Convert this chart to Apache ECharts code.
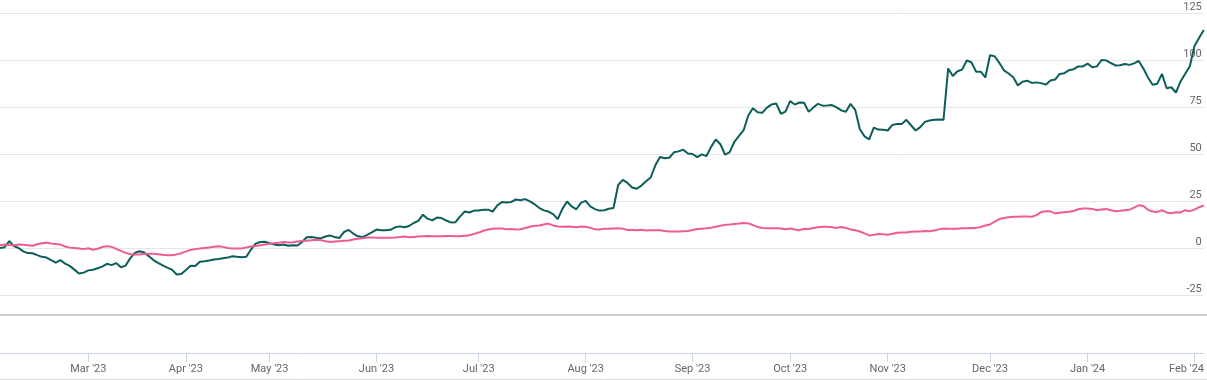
<!DOCTYPE html>
<html>
<head>
<meta charset="utf-8">
<script src="https://cdn.jsdelivr.net/npm/echarts@6/dist/echarts.min.js"></script>
<style>html,body{margin:0;padding:0;background:#fff}#c{width:1207px;height:380px}</style>
</head>
<body>
<div id="c"></div>
<script>
// Month tick labels and number of trading days (points) per month
const monthLabels = ["Feb '23","Mar '23","Apr '23","May '23","Jun '23","Jul '23","Aug '23","Sep '23","Oct '23","Nov '23","Dec '23","Jan '24","Feb '24"];
const monthDays = [19,21,18,23,22,23,23,21,21,22,21,23,3];

// y axis ticks
const yMin = -25, yMax = 125, yStep = 25;

// Series values (% change), one per trading day
const seriesGreen = [
0,0.4,3.6,1,0,-1.8,-2.7,-2.8,-3.8,-4.7,
-5.1,-6.5,-7.8,-6.4,-8.3,-9.5,-11.5,-13.6,-13.1,-11.9,
-11.6,-10.8,-9.9,-8.4,-9.1,-8,-10.2,-9.4,-5.5,-2.6,
-1.7,-2.4,-4.3,-6.4,-7.9,-9.2,-10.4,-11.5,-14.1,-13.8,
-11.7,-9.5,-9.6,-7.3,-7.1,-6.7,-6.1,-5.8,-5.4,-5.1,
-4.4,-4.7,-4.9,-4.7,-0.8,2.3,3.2,3.3,2.6,1.9,
1.5,1.9,1.2,1.5,1.3,3.2,5.7,5.9,5.4,5.1,
6.1,6.7,5.8,5.3,8.5,9.6,7.7,6.2,5.8,7,
8.3,9.8,9.4,9.4,9.7,11,11.5,11,11.7,13.3,
14.4,17.7,15.6,14.7,16.2,15.9,14.6,13.6,13.7,16.8,
19.4,18.9,19.9,20,20.3,20.4,19.4,22.7,24.5,24.2,
24.5,25.8,25.4,26,24.8,23.3,21.4,20,19.4,18,
15.4,20.8,24.7,22.1,20.6,24,25.1,22.1,20.7,19.9,
20.1,20.9,21.3,33.5,36.2,34.6,32.2,31.5,33.2,35.5,
37.5,44,48.4,47.7,48,50.9,51.4,52.3,50.3,50,
48.3,49.8,48.9,53.8,57.7,55.2,49.6,51,56.5,59.6,
62.7,70.5,74.4,72.2,71.9,74.7,76.3,76.9,71.4,72.5,
78.1,76.3,77.4,77.3,72.4,74.8,76.7,75.7,75.8,76,
74.8,73.2,72.5,76.7,73.5,63.2,59.4,57.8,64,63,
62.9,62.5,65.5,66,65.9,68.2,65.3,62.5,64.3,67.1,
67.8,68.2,68.4,68.2,95.5,91.5,94,94.9,99.7,98.8,
93.8,93.8,90.7,102.5,102,98.5,94.5,92.8,90.8,86.5,
88.4,89,87.8,88.1,87.7,86.9,89.1,89.6,92.6,93,
94.6,95.1,96.6,96.6,98.1,96.1,96.6,100,99.8,98.4,
97.1,97.2,97.9,97.4,98.2,99.5,95.5,90.6,86.8,87.4,
92.6,85,85.5,82.7,88.6,92.7,96.7,107.5,111.8,116
];
const seriesPink = [
1.5,1.8,1.6,1.5,1.8,1.7,1.5,1.2,2,2.5,
2.8,2.4,2.1,1.8,0.8,0.2,0,-0.3,-0.6,-0.1,
-0.9,-0.4,0.5,1,0.6,-0.5,-1.5,-2.6,-3.2,-3.4,
-3.4,-3.2,-3.1,-3.1,-3.3,-3.6,-3.8,-3.8,-3.4,-2.8,
-1.8,-1.1,-0.6,-0.3,0,0.3,0.7,0.9,0.6,0,
-0.3,-0.3,-0.2,0.3,0.8,1.1,1.5,1.9,2.2,2.5,
2.8,3.2,2.9,3.1,3.5,3.7,3.9,4.1,4.4,4.2,
3.6,3.2,3.4,3.6,3.8,4,4.5,4.9,5.2,5.6,
5.6,5.5,5.4,5.4,5.5,5.6,5.8,6.1,5.7,5.9,
6.1,6.3,6.4,6.2,6.2,6.3,6.4,6.4,6.2,6.2,
6.5,6.8,7.5,8.2,9.2,9.8,10.2,10.4,10.4,10,
10.1,9.9,10,10.6,11.3,11.8,12,12.5,13,12,
11.4,11.3,11.5,11.3,11,11.4,11.3,10.7,10,9.8,
10.3,10.2,10.4,10.5,10.3,9.6,9.6,9.5,9.7,9.3,
9.5,9.5,9.5,9.1,8.8,8.8,8.8,8.9,9,9.6,
10.1,10.3,10.5,10.8,11.3,11.8,12.3,12.5,12.8,13,
13.3,13.1,12.2,11.2,10.6,10.5,10.5,10.5,10.4,10,
10.4,9.8,9.5,10.2,10.1,10.6,11,11.3,11.3,11,
10.7,11.2,10.6,9.9,9.5,8.8,7.8,6.7,7,7.4,
7.3,7,7.6,8.1,8.3,8.3,8.6,8.8,8.8,9,
8.9,9.3,9.9,10.4,10.3,10.2,10.3,10.5,10.5,10.6,
10.7,11.2,12,12.5,14,15.4,16,16.4,16.6,16.6,
16.8,16.8,16.6,17.5,19.1,19.5,19.5,18.4,18.7,19,
19.3,19.7,20.6,21,21,20.8,20.1,20.5,20.7,20.1,
19.6,19.8,20.1,20.4,21.5,22.7,22.3,20.3,19.4,19.2,
20.1,18.9,18.5,19,18.9,20.1,19.6,20.4,21.7,22.6
];

// Build categories: one per trading day, tagged with its month
const categories = [];
const tickLabelAt = {};
monthDays.forEach(function (n, m) {
  for (let k = 0; k < n; k++) {
    const idx = categories.length;
    categories.push(monthLabels[m] + ' d' + (k + 1));
    if (k === 0 && m > 0) tickLabelAt[idx] = monthLabels[m];
  }
});
const lastTickIdx = Math.max.apply(null, Object.keys(tickLabelAt).map(Number));
const isTick = function (i) { return tickLabelAt[i] !== undefined; };

const FONT = 'Roboto, "Liberation Sans", sans-serif';
const chart = echarts.init(document.getElementById('c'), null, {renderer: 'canvas'});
chart.setOption({
  animation: false,
  backgroundColor: '#ffffff',
  grid: {left: 0, right: 0, top: 13, bottom: 85, containLabel: false},
  xAxis: {
    type: 'category',
    data: categories,
    boundaryGap: false,
    offset: 58,
    axisLine: {onZero: false, lineStyle: {color: '#ccd6eb', width: 1}},
    axisTick: {show: true, length: 9, interval: function (i) { return isTick(i); }, lineStyle: {color: '#ccd6eb'}},
    axisLabel: {
      interval: function (i) { return isTick(i); },
      formatter: function (v, i) {
        const t = tickLabelAt[i] || '';
        return i === lastTickIdx ? '{r|' + t + '}' : t;
      },
      color: '#666666', fontSize: 11, fontFamily: FONT, margin: 11,
      rich: {r: {color: '#666666', fontSize: 11, fontFamily: FONT, padding: [0, 16, 0, 0]}}
    },
    splitLine: {show: false}
  },
  yAxis: {
    type: 'value',
    position: 'right',
    min: yMin, max: yMax, interval: yStep,
    axisLine: {show: false},
    axisTick: {show: false},
    splitLine: {lineStyle: {color: '#e6e6e6', width: 1}},
    axisLabel: {inside: true, color: '#666666', fontSize: 11, fontFamily: FONT, verticalAlign: 'bottom', margin: 2, padding: [0, 0, 0, 0]}
  },
  graphic: [
    {type: 'line', silent: true, shape: {x1: 0, y1: 315, x2: 1207, y2: 315}, style: {stroke: '#cccccc', lineWidth: 2}},
    {type: 'line', silent: true, shape: {x1: 0, y1: 379.5, x2: 1207, y2: 379.5}, style: {stroke: '#d8d8d8', lineWidth: 1}}
  ],
  series: [
    {name: 'Green', type: 'line', data: seriesGreen, showSymbol: false, symbol: 'none', lineStyle: {color: '#0b5e59', width: 2}, itemStyle: {color: '#0b5e59'}, z: 2},
    {name: 'Pink', type: 'line', data: seriesPink, showSymbol: false, symbol: 'none', lineStyle: {color: '#ee5c92', width: 2}, itemStyle: {color: '#ee5c92'}, z: 3}
  ]
});
</script>
</body>
</html>
